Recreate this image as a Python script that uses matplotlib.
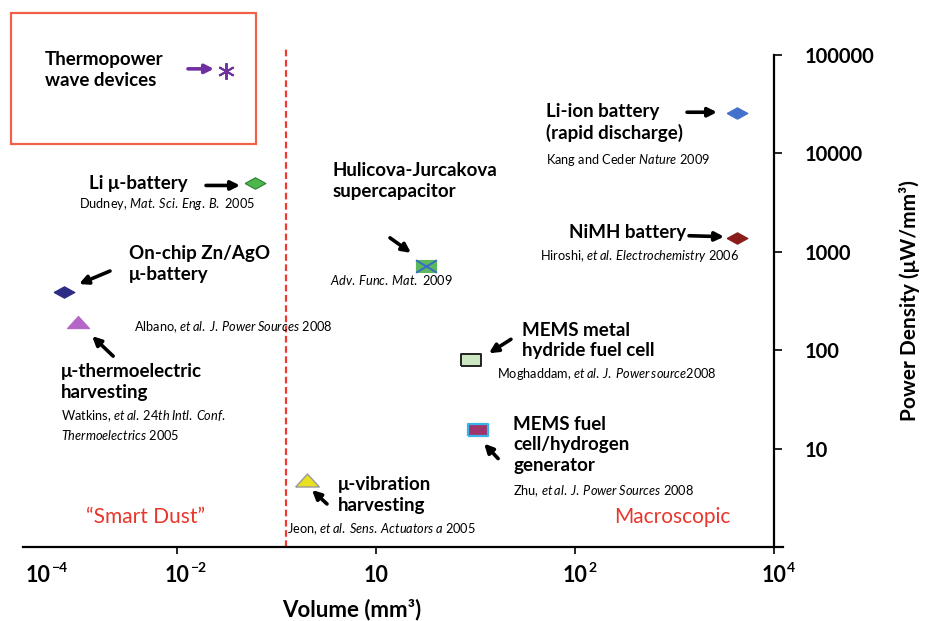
import numpy as np
import matplotlib
matplotlib.use('Agg')
import matplotlib.pyplot as plt
from matplotlib.path import Path
from matplotlib.patches import Rectangle
from matplotlib.transforms import offset_copy

plt.rcParams['font.family'] = ['Lato', 'DejaVu Sans']
plt.rcParams['mathtext.fontset'] = 'custom'
plt.rcParams['mathtext.rm'] = 'Lato'
plt.rcParams['mathtext.it'] = 'Lato:italic'

# device data (x = position on the volume axis, in tick units; y = power density uW/mm3)
devices = ['thermopower', 'li_micro', 'znago', 'thermoelectric', 'hulicova',
           'li_ion', 'nimh', 'mems_mh', 'mems_fc', 'vibration']
vol_pos = [0.246, 0.392, -0.568, -0.497, 1.251, 2.814, 2.814, 1.477, 1.513, 0.653]
power = [69000, 4950, 390, 193, 720, 25600, 1390, 79, 15.6, 4.8]

labels = ['Thermopower\nwave devices', 'Li \u03bc-battery', 'On-chip Zn/AgO\n\u03bc-battery',
          '\u03bc-thermoelectric\nharvesting', 'Hulicova-Jurcakova\nsupercapacitor',
          'Li-ion battery\n(rapid discharge)', 'NiMH battery', 'MEMS metal\nhydride fuel cell',
          'MEMS fuel\ncell/hydrogen\ngenerator', '\u03bc-vibration\nharvesting']
refs = ['', 'Dudney, |Mat. Sci. Eng. B.| 2005', 'Albano, |et al. J. Power Sources| 2008',
        'Watkins, |et al. 24th Intl. Conf.|\n|Thermoelectrics| 2005', '|Adv. Func. Mat.| 2009',
        'Kang and Ceder |Nature| 2009', 'Hiroshi, |et al. Electrochemistry| 2006',
        'Moghaddam, |et al. J. Power source|2008', 'Zhu, |et al. J. Power Sources| 2008',
        'Jeon, |et al. Sens. Actuators a| 2005']

xtick_pos = [-0.70, 0, 1, 2, 3]
xtick_base = ['10', '10', '10', '10', '10']
xtick_exp = ['-4', '-2', '', '2', '4']
ytick_vals = [10, 100, 1000, 10000, 100000]
boundary_pos = 0.548

# marker shapes
diamond = [(-1, 0), (0, 0.55), (1, 0), (0, -0.55), (-1, 0)]
tri = [(-1, -0.55), (1, -0.55), (0, 0.55), (-1, -0.55)]
rect = [(-1, -0.6), (1, -0.6), (1, 0.6), (-1, 0.6), (-1, -0.6)]
cross = Path([(-1, -0.6), (1, 0.6), (-1, 0.6), (1, -0.6)],
             [Path.MOVETO, Path.LINETO, Path.MOVETO, Path.LINETO])

styles = {
    'thermopower': dict(marker=(6, 2, 0), ms=12, mec='#7030a0', mew=1.4),
    'li_micro': dict(marker=diamond, ms=15, mfc='#4cb84c', mec='#2f7f30', mew=0.8),
    'znago': dict(marker=diamond, ms=15, mfc='#2c2c84', mec='#2c2c84', mew=0.8),
    'thermoelectric': dict(marker=tri, ms=16, mfc='#b466c8', mec='#b466c8', mew=0.8),
    'hulicova': dict(marker=rect, ms=15, mfc='#5cb85c', mec='#5cb85c', mew=0.8),
    'li_ion': dict(marker=diamond, ms=15, mfc='#4272cc', mec='#4272cc', mew=0.8),
    'nimh': dict(marker=diamond, ms=15, mfc='#8b1c1c', mec='#8b1c1c', mew=0.8),
    'mems_mh': dict(marker=rect, ms=14, mfc='#cde6c2', mec='#222222', mew=1.4),
    'mems_fc': dict(marker=rect, ms=14, mfc='#a0356e', mec='#38b4e8', mew=1.6),
    'vibration': dict(marker=tri, ms=17, mfc='#e8e020', mec='#9a9a9a', mew=1.0),
}

# layout offsets in pixels from each point: label, reference, arrow tail, arrow head
label_off = [(-181, 1), (-166, 0), (65, 28), (-17, -60), (-93, 85),
             (-191, -9), (-168, 5), (51, 20), (35, -15), (31, -15)]
ref_off = [None, (-176, -21), (70, -35), (-17, -103), (-96, -14),
           (-191, -47), (-197, -18), (26, -14), (35, -62), (-20, -49)]
arrow_tail = [(-38, 2), (-49, -2), (46, 21), (35, -34), (-36, 28),
              (-50, 1), (-48, 2), (40, 21), (20, -29), (20, -24)]
arrow_head = [(-12, 2), (-15, -2), (15, 8), (14, -14), (-15, 13),
              (-20, 1), (-13, 1), (18, 7), (6, -14), (5, -10)]
arrow_color = ['#7030a0'] + ['black'] * 9


def ref_math(s):
    out = []
    for line in s.split('\n'):
        parts = line.split('|')
        txt = ''
        for i, p in enumerate(parts):
            if i % 2 == 1:
                txt += r'$\mathit{' + p.replace(' ', r'\:') + '}$'
            else:
                txt += p
        out.append(txt)
    return '\n'.join(out)


fig = plt.figure(figsize=(9.26, 6.21), dpi=100)
ax = fig.add_axes([23 / 926, 74 / 621, 760 / 926, 492 / 621])
ax.set_yscale('log')
ax.set_xlim(-0.774, 3.045)
ax.set_ylim(1, 100000)

for i, name in enumerate(devices):
    ax.plot(vol_pos[i], power[i], linestyle='none', clip_on=False, zorder=5, **styles[name])
    if name == 'hulicova':
        ax.plot(vol_pos[i], power[i], linestyle='none', marker=cross, ms=15,
                mec='#3a6cc4', mew=1.4, zorder=6)

    # label
    ax.annotate(labels[i], xy=(vol_pos[i], power[i]), xytext=label_off[i],
                textcoords='offset pixels', ha='left', va='center',
                fontsize=13.5, fontweight='bold', linespacing=1.25, annotation_clip=False)
    if ref_off[i] is not None:
        ax.annotate(ref_math(refs[i]), xy=(vol_pos[i], power[i]), xytext=ref_off[i],
                    textcoords='offset pixels', ha='left', va='center',
                    fontsize=9.2, linespacing=1.3, annotation_clip=False)

    # arrow
    hx, hy = arrow_head[i]
    tx, ty = arrow_tail[i]
    head_tr = offset_copy(ax.transData, fig=fig, x=hx, y=hy, units='dots')
    ax.annotate('', xy=(vol_pos[i], power[i]), xycoords=head_tr,
                xytext=(tx - hx, ty - hy), textcoords='offset pixels',
                arrowprops=dict(arrowstyle='-|>', lw=2.6, color=arrow_color[i],
                                mutation_scale=13, shrinkA=0, shrinkB=0),
                annotation_clip=False)

# boundary between smart dust and macroscopic
ax.axvline(boundary_pos, ymin=0, ymax=1.017, color='#f03a30', lw=1.6,
           dashes=(3, 1.6), clip_on=False, zorder=1)
ax.text(0.161, 0.06, '\u201cSmart Dust\u201d', transform=ax.transAxes, color='#e8362c',
        fontsize=15, ha='center', va='center')
ax.text(0.855, 0.06, 'Macroscopic', transform=ax.transAxes, color='#e8362c',
        fontsize=15, ha='center', va='center')

# red box round the thermopower group
fig.patches.append(Rectangle((11 / 926, 477 / 621), 245 / 926, 131 / 621,
                             transform=fig.transFigure, fill=False,
                             edgecolor='#f0604a', lw=1.6))

# axes styling
ax.spines['left'].set_visible(False)
ax.spines['top'].set_visible(False)
ax.spines['right'].set_position(('data', 3.0))
ax.spines['right'].set_linewidth(1.6)
ax.spines['bottom'].set_linewidth(1.6)
ax.yaxis.tick_right()
ax.yaxis.set_minor_locator(matplotlib.ticker.NullLocator())
ax.set_yticks(ytick_vals)
ax.set_yticklabels([str(v) for v in ytick_vals], fontweight='bold')
ax.tick_params(axis='y', direction='out', length=6, width=1.2, pad=16,
               labelsize=14.5)

ax.set_xticks(xtick_pos)
ax.set_xticklabels([])
ax.tick_params(axis='x', direction='out', length=5, width=1.2)
ax.xaxis.get_major_ticks()[0].tick1line.set_visible(False)
# volume tick labels drawn as base + exponent so both stay bold
for pos, base, ex in zip(xtick_pos, xtick_base, xtick_exp):
    ax.annotate(base, xy=(pos, 0), xycoords=('data', 'axes fraction'),
                xytext=(0, -29), textcoords='offset pixels', ha='center', va='center',
                fontsize=15.5, fontweight='bold', annotation_clip=False)
    if ex:
        ax.annotate(ex.replace('-', '\u2212'), xy=(pos, 0), xycoords=('data', 'axes fraction'),
                    xytext=(13, -21), textcoords='offset pixels', ha='left', va='center',
                    fontsize=10, fontweight='bold', annotation_clip=False)

ax.set_xlabel('Volume (mm\u00b3)', fontsize=16, fontweight='bold')
ax.xaxis.set_label_coords(0.433, -0.104)
ax.yaxis.set_label_position('right')
ax.set_ylabel('Power Density (\u03bcW/mm\u00b3)', fontsize=15, fontweight='bold',
              ha='center', va='center')
ax.yaxis.set_label_coords(1.167, 0.5)

fig.savefig('out.png', dpi=100)
